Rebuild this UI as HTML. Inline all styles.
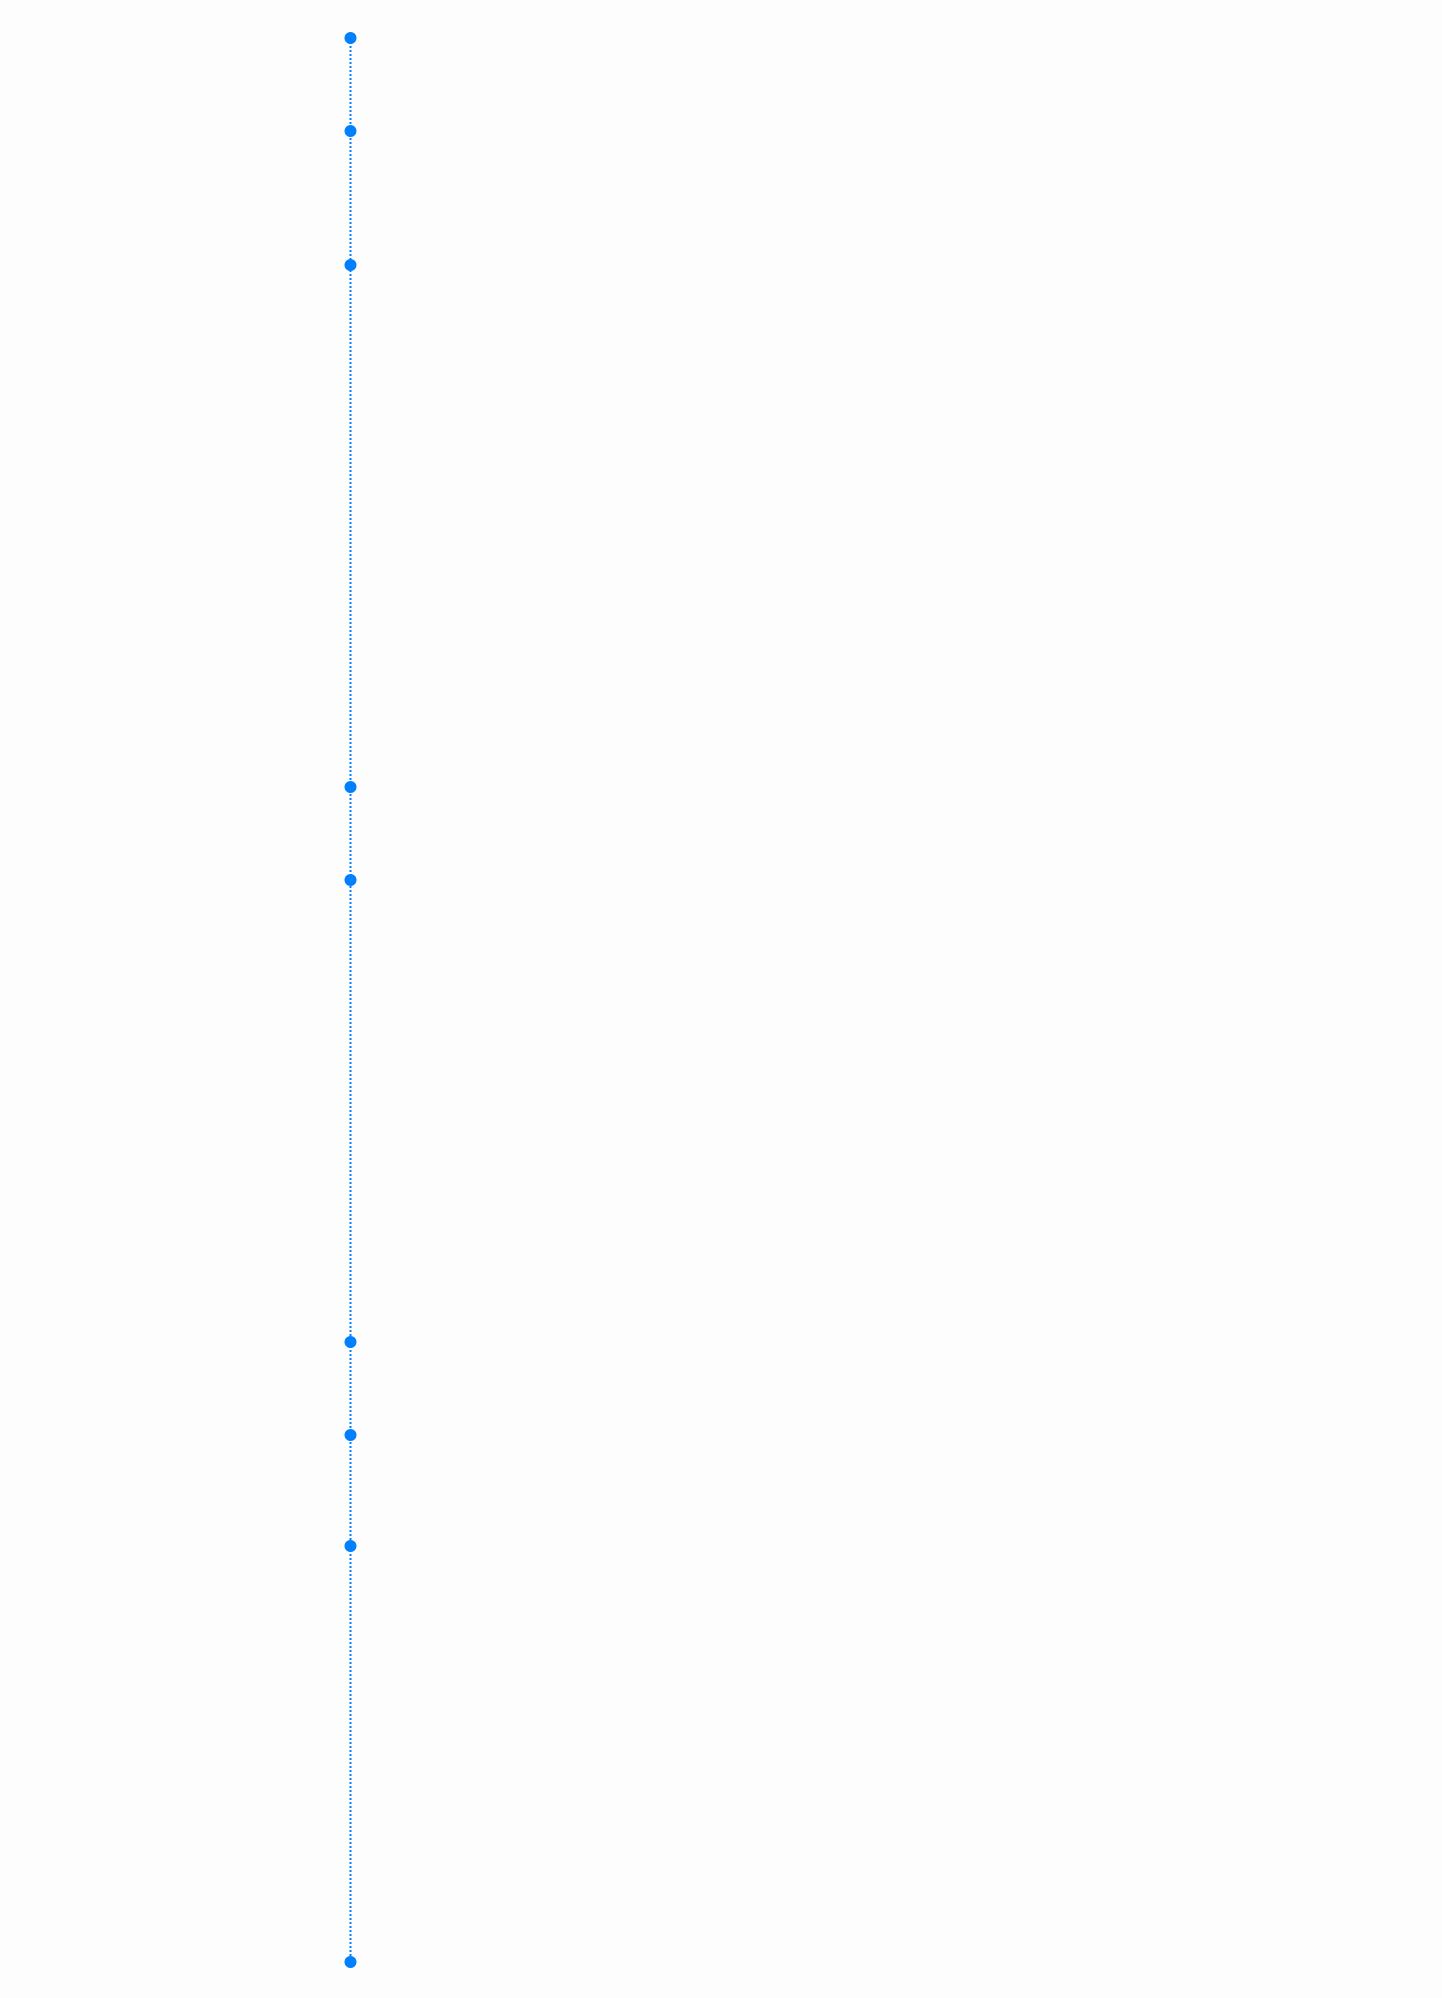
<!DOCTYPE html>
<html><head><meta charset="utf-8"><style>
html,body{margin:0;padding:0;background:#fdfdfd;}
svg{display:block;}
</style></head><body>
<svg width="1442" height="1998" xmlns="http://www.w3.org/2000/svg">
<rect width="1442" height="1998" fill="#fdfdfd"/>
<line x1="350.5" y1="38" x2="350.5" y2="1962" stroke="#0080ff" stroke-width="2" stroke-dasharray="2 2"/>
<g fill="#0080ff">
<circle cx="350.5" cy="38" r="6"/>
<circle cx="350.5" cy="131" r="6"/>
<circle cx="350.5" cy="265" r="6"/>
<circle cx="350.5" cy="787" r="6"/>
<circle cx="350.5" cy="880" r="6"/>
<circle cx="350.5" cy="1342" r="6"/>
<circle cx="350.5" cy="1435" r="6"/>
<circle cx="350.5" cy="1546" r="6"/>
<circle cx="350.5" cy="1962" r="6"/>
</g>
</svg>
</body></html>
